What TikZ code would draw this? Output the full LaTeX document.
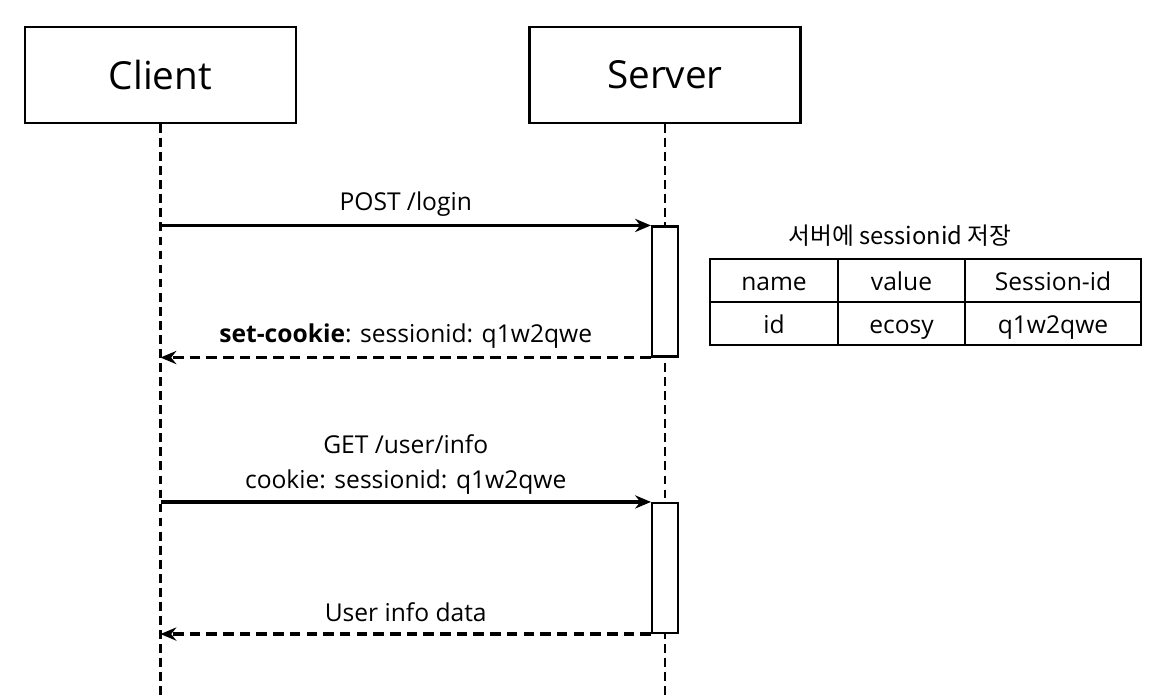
\documentclass[tikz,border=0pt]{standalone}
\usepackage{fontspec}
\usetikzlibrary{arrows.meta}
\setmainfont{Open Sans}
\newfontfamily\kr{Noto Sans CJK KR}

\begin{document}
\begin{tikzpicture}[thick,>={Stealth[length=9pt,width=7.5pt]}]

% 图幅与样式
\useasboundingbox (0,0) rectangle (23.46,-13.92);
\tikzset{
  actor/.style={draw, line width=1.2pt, minimum width=5.42cm, minimum height=1.92cm, font=\fontsize{22}{26}\selectfont},
  lifeline/.style={line width=1.4pt, dash pattern=on 5pt off 3pt},
  act/.style={draw, fill=white, line width=1.2pt, minimum width=0.52cm, minimum height=2.6cm, inner sep=0pt},
  msg/.style={line width=1.8pt, ->},
  ret/.style={line width=1.8pt, ->, dash pattern=on 6pt off 3.5pt},
  lbl/.style={font=\fontsize{14}{20}\selectfont, above=1pt, align=center},
  cell/.style={draw, line width=1.2pt, minimum height=0.86cm, inner sep=0pt, text height=12.5pt, text depth=1.5pt, font=\fontsize{14}{17}\selectfont}
}

% 参与者
\node[actor] (client) at (3.21,-1.5) {Client};
\node[actor] (server) at (13.3,-1.5) {Server};
\coordinate (cend) at (3.21,-13.92);
\coordinate (send) at (13.3,-13.92);

% 生命线
\draw[lifeline] (client.south) -- (cend);
\draw[lifeline] (server.south) -- (send);

% 激活框
\node[act] (act1) at (13.3,-5.83) {};
\node[act] (act2) at (13.3,-11.36) {};

% 消息
\draw[msg] (client.south |- act1.north) -- (act1.north west) node[lbl, midway] {POST /login};
\draw[ret] (act1.south west) -- (client.south |- act1.south) node[lbl, midway, above=0pt] {\textbf{set-cookie}: sessionid: q1w2qwe};
\draw[msg] (client.south |- act2.north) -- (act2.north west) node[lbl, midway, above=-1pt] {GET /user/info\\cookie: sessionid: q1w2qwe};
\draw[ret] (act2.south west) -- (client.south |- act2.south) node[lbl, midway, above=2pt] {User info data};

% 会话表
\node[font=\kr\fontsize{13.5}{16}\selectfont] (ttl) at (18.0,-4.72) {서버에 sessionid 저장};
\node[cell, minimum width=2.56cm] (hname) at (15.48,-5.61) {name};
\node[cell, minimum width=2.54cm] (hval)  at (18.03,-5.61) {value};
\node[cell, minimum width=3.52cm] (hsid)  at (21.06,-5.61) {Session-id};
\node[cell, minimum width=2.56cm] (vname) at (15.48,-6.47) {id};
\node[cell, minimum width=2.54cm] (vval)  at (18.03,-6.47) {ecosy};
\node[cell, minimum width=3.52cm] (vsid)  at (21.06,-6.47) {q1w2qwe};

\end{tikzpicture}
\end{document}
